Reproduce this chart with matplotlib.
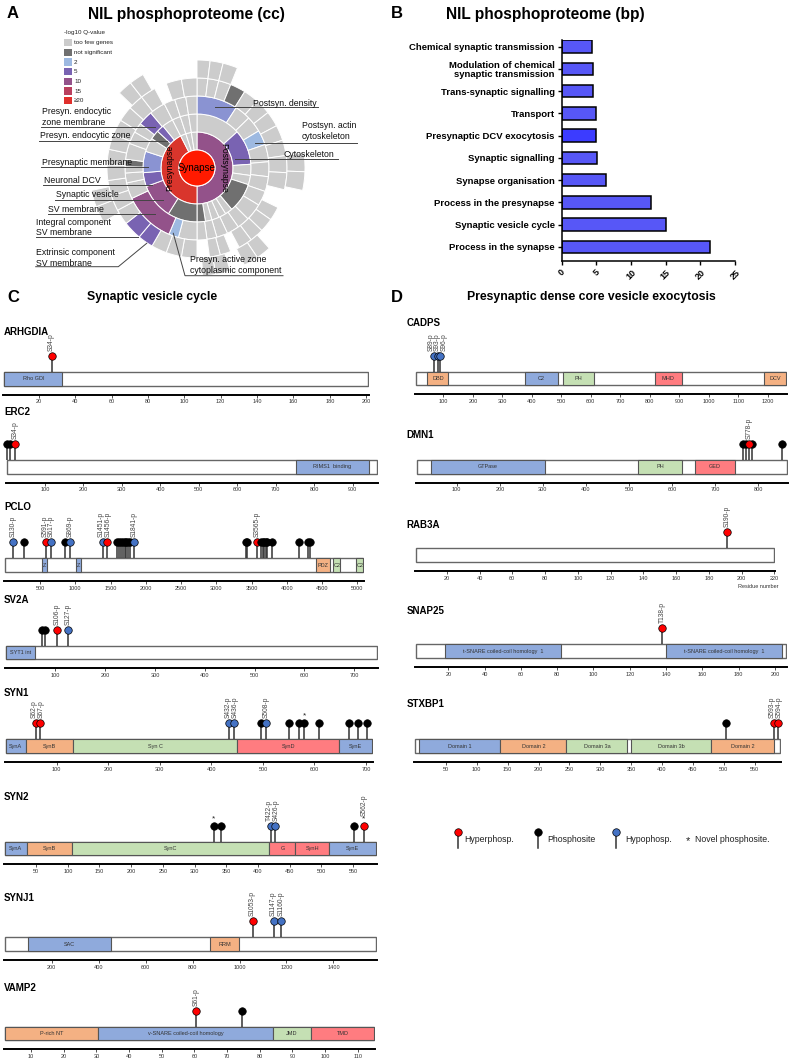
import numpy as np
import matplotlib.pyplot as plt
from matplotlib.patches import Wedge, Circle, Rectangle

plt.rcParams['font.family'] = ['Liberation Sans', 'DejaVu Sans']

W, H = 791, 1063

# ---------------- panel A data (sunburst, segment spans in degrees, clockwise from north)
q_colors = {'g': '#cccccc', 'n': '#707070', '2': '#9db9e1', '3': '#8a93d2',
            '5': '#7963b2', '10': '#93528a', '15': '#b9405e', '20': '#e0302c',
            'pre': '#d9352c', 'syn': '#ff1a00'}
legend_codes = ['g', 'n', '2', '5', '10', '15', '20']
legend_names = ['too few genes', 'not significant', '2', '5', '10', '15', '≥20']

ring1 = [(180, '10'), (153, 'pre'), (9, 'g'), (9, 'g'), (9, 'g')]
ring2 = [(48, 'g'), (38, '5'), (12, 'g'), (10, 'g'), (32, 'n'), (8, 'g'), (8, 'g'), (8, 'g'),
         (7, 'g'), (9, 'n'), (32, 'n'), (38, '10'), (15, '5'), (23, '3'), (15, 'g'), (10, 'n'),
         (8, '5'), (12, 'g'), (9, 'g'), (9, 'g'), (9, 'g')]
ring3 = [(33, '3'), (13, 'g'), (13, 'g'), (12, '2'), (14, 'g'), (12, 'g'), (12, 'g'), (12, 'g'),
         (14, 'g'), (10, 'g'), (10, 'g'), (9, 'g'), (8, 'g'), (8, 'g'),
         (15, 'g'), (8, '2'), (42, '10'), (13, 'g'), (8, 'g'), (5, 'g'), (6, 'n'), (13, 'g'),
         (10, 'g'), (8, 'g'), (12, '5'), (13, 'g'), (9, 'g'), (9, 'g'), (9, 'g')]
ring4 = [(7, 'g'), (7, 'g'), (8, 'g'), (10, 'n'), (10, 'g'), (10, 'g'), (10, 'g'), (10, 'g'),
         (10, 'g'), (11, 'g'), (11, 'g'), (12, None), (9, 'g'), (9, 'g'), (9, 'g'), (9, 'g'),
         (6, None), (7, 'g'), (7, 'g'), (8, None), (10, 'g'), (10, 'g'), (10, 'g'),
         (10, '5'), (12, '5'), (10, 'g'), (10, 'g'), (10, 'g'), (10, 'g'), (10, 'g'), (10, 'g'),
         (10, 'g'), (10, 'g'), (10, 'g'), (10, 'g'), (8, None), (10, 'g'), (10, 'g')]
ring5 = [(7, 'g'), (7, 'g'), (8, 'g'), (60, None), (10, 'g'), (10, 'g'), (36, None),
         (8, 'g'), (8, 'g'), (8, None), (8, 'g'), (7, 'g'), (63, None), (9, 'g'), (9, 'g'),
         (56, None), (8, 'g'), (8, 'g'), (30, None)]
rings = [ring1, ring2, ring3, ring4, ring5]

# label text lines, x, line centres y, leader polyline
sb_labels = [
    (['Presyn. endocytic', 'zone membrane'], 41.7, [111.7, 122.7], [(40.7, 126.7), (155, 126.7)]),
    (['Presyn. endocytic zone'], 39.5, [135.5], [(39.3, 141), (166.7, 141)]),
    (['Presynaptic membrane'], 41.7, [162.3], [(40.7, 166.5), (148.3, 166.5)]),
    (['Neuronal DCV'], 43.5, [180], [(42.7, 185), (151.7, 185)]),
    (['Synaptic vesicle'], 55.5, [194.5], [(55, 200), (163.3, 200)]),
    (['SV membrane'], 48, [209], [(47.7, 214), (155, 214)]),
    (['Integral component', 'SV membrane'], 36, [222, 232.3], [(35.7, 236.7), (138.3, 236.7)]),
    (['Extrinsic component', 'SV membrane'], 36, [252.3, 263.3],
     [(35.7, 266.7), (118.3, 266.7), (146.7, 243.3)]),
    (['Presyn. active zone', 'cytoplasmic component'], 190, [259.3, 270],
     [(173.3, 233.3), (185, 275.7), (283, 275.7)]),
    (['Postsyn. density'], 252.7, [103.3], [(215, 107.3), (318.3, 107.3)]),
    (['Postsyn. actin', 'cytoskeleton'], 302, [126, 136.7], [(255, 142.7), (356.7, 142.7)]),
    (['Cytoskeleton'], 284, [154.7], [(235, 159.3), (338.3, 159.3)]),
]

# ---------------- panel B data
bp_terms = ['Process in the synapse', 'Synaptic vesicle cycle', 'Process in the presynapse',
            'Synapse organisation', 'Synaptic signalling', 'Presynaptic DCV exocytosis',
            'Transport', 'Trans-synaptic signalling',
            'Modulation of chemical\nsynaptic transmission', 'Chemical synaptic transmission']
bp_values = [21.4, 15.0, 12.85, 6.35, 5.05, 4.95, 4.9, 4.5, 4.45, 4.35]
bp_colors = ['#5757f7'] * 5 + ['#3c3cff'] + ['#5757f7'] * 4

# ---------------- panels C / D data
dom_colors = {'b': '#8faadc', 'o': '#f4b183', 'g': '#c5e0b4', 'r': '#ff7c80'}
site_colors = {'hyper': '#ff0000', 'phos': '#000000', 'hypo': '#4472c4'}

lengths = {'ARHGDIA': (1, 201), 'ERC2': (1, 962), 'PCLO': (3, 5085), 'SV2A': (1, 745),
           'SYN1': (1, 711), 'SYN2': (1, 586), 'SYNJ1': (1, 1580), 'VAMP2': (2, 115),
           'CADPS': (6, 1261), 'DMN1': (7, 866), 'RAB3A': (1, 220), 'SNAP25': (2, 206),
           'STXBP1': (0, 591)}
tick_steps = {'ARHGDIA': 20, 'ERC2': 100, 'PCLO': 500, 'SV2A': 100, 'SYN1': 100, 'SYN2': 50,
              'SYNJ1': 200, 'VAMP2': 10, 'CADPS': 100, 'DMN1': 100, 'RAB3A': 20,
              'SNAP25': 20, 'STXBP1': 50}
domains = {
    'ARHGDIA': [(1, 33, 'Rho GDI', 'b')],
    'ERC2': [(752, 941, 'RIMS1  binding', 'b')],
    'PCLO': [(524, 595, 'Z', 'b'), (1011, 1082, 'Z', 'b'), (4419, 4608, 'PDZ', 'o'),
             (4656, 4760, 'C2', 'g'), (4983, 5085, 'C2', 'g')],
    'SV2A': [(1, 60, 'SYT1 int', 'b')],
    'SYN1': [(1, 40, 'SynA', 'b'), (40, 132, 'SynB', 'o'), (132, 450, 'Syn C', 'g'),
             (450, 648, 'SynD', 'r'), (648, 711, 'SynE', 'b')],
    'SYN2': [(1, 35, 'SynA', 'b'), (35, 107, 'SynB', 'o'), (107, 418, 'SynC', 'g'),
             (418, 459, 'G', 'r'), (459, 512, 'SynH', 'r'), (512, 586, 'SynE', 'b')],
    'SYNJ1': [(101, 452, 'SAC', 'b'), (876, 997, 'RRM', 'o')],
    'VAMP2': [(2, 30.5, 'P-rich NT', 'o'), (30.5, 84, 'v-SNARE coiled-coil homology', 'b'),
              (84, 95.7, 'JMD', 'g'), (95.7, 115, 'TMD', 'r')],
    'CADPS': [(46, 117, 'DBD', 'o'), (377, 487, 'C2', 'b'), (507, 611, 'PH', 'g'),
              (816, 908, 'MHD', 'r'), (1188, 1261, 'DCV', 'o')],
    'DMN1': [(40, 305, 'GTPase', 'b'), (520, 624, 'PH', 'g'), (653, 746, 'GED', 'r')],
    'RAB3A': [],
    'SNAP25': [(18, 82, 't-SNARE coiled-coil homology  1', 'b'),
               (140, 204, 't-SNARE coiled-coil homology  1', 'b')],
    'STXBP1': [(7, 138, 'Domain 1', 'b'), (138, 245, 'Domain 2', 'o'), (245, 344, 'Domain 3a', 'g'),
               (349, 480, 'Domain 3b', 'g'), (480, 582, 'Domain 2', 'o')],
}
# (residue, kind, label, novel)
sites = {
    'ARHGDIA': [(27, 'hyper', 'S34-p', False)],
    'ERC2': [(2, 'phos', '', False), (9, 'phos', '', False), (22, 'hyper', 'S34-p', False)],
    'PCLO': [(121, 'hypo', 'S130-p', False), (273, 'phos', '', False),
             (585, 'hyper', 'S591-p', False), (651, 'hypo', 'S617-p', False),
             (855, 'phos', '', False), (931, 'hypo', 'S869-p', False),
             (1390, 'hypo', 'S1451-p', False), (1447, 'hyper', 'S1456-p', False),
             (1598, 'phos', '', False), (1625, 'phos', '', False), (1650, 'phos', '', False),
             (1675, 'phos', '', False), (1700, 'phos', '', False), (1725, 'phos', '', False),
             (1750, 'phos', '', False), (1778, 'phos', '', False),
             (1839, 'hypo', 'S1841-p', False), (3418, 'phos', '', False),
             (3432, 'phos', '', False), (3577, 'hyper', 'S3565-p', False),
             (3640, 'phos', '', False), (3660, 'phos', '', False), (3680, 'phos', '', False),
             (3700, 'phos', '', False), (3718, 'phos', '', False), (3790, 'phos', '', False),
             (4168, 'phos', '', False), (4296, 'phos', '', False), (4322, 'phos', '', False)],
    'SV2A': [(74, 'phos', '', False), (79, 'phos', '', False), (103, 'hyper', 'S106-p', False),
             (125, 'hypo', 'S127-p', False)],
    'SYN1': [(60, 'hyper', 'S62-p', False), (67, 'hyper', 'S67-p', False),
             (435, 'hypo', 'S432-p', False), (443, 'hypo', 'S436-p', False),
             (496, 'phos', '', False), (506, 'hypo', 'S508-p', False), (551, 'phos', '', False),
             (569, 'phos', '', False), (580, 'phos', '', True), (609, 'phos', '', False),
             (666, 'phos', '', False), (685, 'phos', '', False), (701, 'phos', '', False)],
    'SYN2': [(330, 'phos', '', True), (342, 'phos', '', False), (421, 'hypo', 'T422-p', False),
             (426, 'hypo', 'S426-p', False), (551, 'phos', '', False),
             (567, 'hyper', 'S562-p', True)],
    'SYNJ1': [(1056, 'hyper', 'S1053-p', False), (1145, 'hypo', 'S1147-p', False),
              (1176, 'hypo', 'S1160-p', False)],
    'VAMP2': [(60.5, 'hyper', 'S61-p', False), (74.6, 'phos', '', False)],
    'CADPS': [(69, 'hypo', 'S89-p', False), (80, 'hypo', 'S93-p', False),
              (90, 'hypo', 'S96-p', False)],
    'DMN1': [(765, 'phos', '', False), (771, 'phos', '', False), (785, 'phos', '', False),
             (778, 'hyper', 'S778-p', False), (854, 'phos', '', False)],
    'RAB3A': [(191, 'hyper', 'S190-p', False)],
    'SNAP25': [(138, 'hyper', 'T138-p', False)],
    'STXBP1': [(504, 'phos', '', False), (581, 'hyper', 'S593-p', False),
               (587, 'hyper', 'S594-p', False)],
}
# layout: bar left px, bar right px, bar top px, name y px
layout = {
    'ARHGDIA': (4.3, 368, 372, 332), 'ERC2': (6.7, 376.7, 460, 411.7),
    'PCLO': (5, 363.3, 558.3, 506.7), 'SV2A': (6, 376.7, 645.7, 600),
    'SYN1': (5.7, 371.7, 739.3, 693.3), 'SYN2': (5, 376, 841.7, 797.3),
    'SYNJ1': (5, 375.7, 937.3, 898.3), 'VAMP2': (5, 374, 1026.7, 988.3),
    'CADPS': (415.7, 785.7, 371.7, 323.3), 'DMN1': (416.7, 786.7, 460, 435),
    'RAB3A': (415.7, 774.3, 548.3, 525), 'SNAP25': (415.7, 785.7, 644.3, 611),
    'STXBP1': (415, 780, 739.3, 704),
}

fig = plt.figure(figsize=(W / 100, H / 100), dpi=100)


def px_axes(x0, y0, x1, y1):
    return fig.add_axes([x0 / W, 1 - y1 / H, (x1 - x0) / W, (y1 - y0) / H])


def ftext(x, y, s, **kw):
    fig.text(x / W, 1 - y / H, s, **kw)


def spread(pos, gap):
    # push crowded label positions apart, keeping each cluster centred
    pos = list(pos)
    for _ in range(50):
        moved = False
        groups = [[0]]
        for i in range(1, len(pos)):
            if pos[i] - pos[groups[-1][-1]] < gap - 1e-6:
                groups[-1].append(i)
            else:
                groups.append([i])
        for g in groups:
            if len(g) > 1:
                c = np.mean([pos[i] for i in g])
                n = len(g)
                for j, i in enumerate(g):
                    new = c + (j - (n - 1) / 2) * gap
                    if abs(new - pos[i]) > 1e-6:
                        moved = True
                    pos[i] = new
        if not moved:
            break
    return pos


# ---------------- panel A
axA = px_axes(0, 0, 395, 290)
axA.set_xlim(0, 395)
axA.set_ylim(290, 0)
axA.axis('off')
cx, cy = 197, 168
radii = [18, 36, 54, 72, 90, 108]
for k, ring in enumerate(rings):
    start = 0
    for span, code in ring:
        if code is not None:
            axA.add_patch(Wedge((cx, cy), radii[k + 1], 270 + start, 270 + start + span,
                                width=radii[k + 1] - radii[k], fc=q_colors[code],
                                ec='white', lw=0.7))
        start += span
axA.add_patch(Circle((cx, cy), radii[0], fc=q_colors['syn'], ec='white', lw=0.8))
axA.text(cx, cy, 'Synapse', ha='center', va='center', fontsize=7)
axA.text(cx - 27, cy, 'Presynapse', ha='center', va='center', fontsize=6.2, rotation=90)
axA.text(cx + 27, cy, 'Postsynapse', ha='center', va='center', fontsize=6.2, rotation=-90)

for lines, tx, tys, pts in sb_labels:
    for s, ty in zip(lines, tys):
        axA.text(tx, ty, s, ha='left', va='center', fontsize=6.3, color='#111111')
    xs, ys = zip(*pts)
    axA.plot(xs, ys, color='#444444', lw=0.7)

axA.text(64, 32.3, '-log10 Q-value', fontsize=4.5, va='center', ha='left', color='#222222')
for i, (code, nm) in enumerate(zip(legend_codes, legend_names)):
    yy = 42.7 + i * 9.67
    axA.add_patch(Rectangle((64.3, yy - 3.6), 7.4, 7.2, fc=q_colors[code], ec='none'))
    axA.text(74, yy, nm, fontsize=4.5, va='center', ha='left', color='#222222')

# ---------------- panel B
axB = px_axes(561.7, 40, 735, 261)
axB.barh(np.arange(len(bp_values)), bp_values, height=0.56, color=bp_colors,
         edgecolor='black', linewidth=1.1)
axB.set_xlim(0, 25)
axB.set_ylim(-0.64, 9.3)
axB.set_yticks(np.arange(len(bp_terms)))
axB.set_yticklabels(bp_terms, fontsize=6.8, fontweight='bold', linespacing=1.05)
axB.set_xticks(np.arange(0, 26, 5))
axB.set_xticklabels([str(v) for v in range(0, 26, 5)], fontsize=6.5, fontweight='bold',
                    rotation=45, ha='center', va='top')
for sp in ['top', 'right']:
    axB.spines[sp].set_visible(False)
for sp in ['left', 'bottom']:
    axB.spines[sp].set_linewidth(1.1)
axB.tick_params(length=3, width=1.0, pad=2)


# ---------------- panels C and D
def draw_protein(name, name_x):
    x0, x1, top, name_y = layout[name]
    r0, r1 = lengths[name]
    scale = (x1 - x0) / (r1 - r0)
    axis_y = top + 22.5
    bot = top + 13.5
    head_y = top - 16
    ax_top = top - 45
    ax = px_axes(x0 - 1, ax_top, x1 + 1, axis_y)
    ax.set_xlim(r0 - 1 / scale, r1 + 1 / scale)
    ax.set_ylim(axis_y, ax_top)
    ax.patch.set_alpha(0)
    ax.add_patch(Rectangle((r0, top), r1 - r0, bot - top, fc='white', ec='#666666', lw=1.0))
    for d0, d1, lab, c in domains[name]:
        ax.add_patch(Rectangle((d0, top), d1 - d0, bot - top, fc=dom_colors[c],
                               ec='#555555', lw=0.8))
        ax.text((d0 + d1) / 2, (top + bot) / 2, lab, ha='center', va='center',
                fontsize=4, color='#333333')
    for res, kind, lab, novel in sites[name]:
        ax.plot([res, res], [top, head_y], color='#333333', lw=1.1, solid_capstyle='butt')
    for res, kind, lab, novel in sites[name]:
        ax.plot(res, head_y, 'o', ms=5.4, mfc=site_colors[kind], mec='black', mew=0.5,
                clip_on=False)
        if novel:
            ax.text(res, head_y - 3.5, '*', ha='center', va='bottom', fontsize=6,
                    color='#222222')
    # rotated site labels, spread so that neighbours do not collide
    labelled = sorted([s for s in sites[name] if s[2]], key=lambda s: s[0])
    if labelled:
        xs = spread([s[0] * scale for s in labelled], 6.6)
        for (res, kind, lab, novel), xp in zip(labelled, xs):
            lab_y = head_y - (10 if novel else 5)
            ax.text(xp / scale, lab_y, lab, rotation=90, ha='center', va='bottom',
                    fontsize=4.8, color='#444444')
    step = tick_steps[name]
    ax.set_xticks(np.arange(step, r1 + 1, step))
    ax.set_yticks([])
    for sp in ['top', 'right', 'left']:
        ax.spines[sp].set_visible(False)
    ax.spines['bottom'].set_linewidth(1.4)
    ax.tick_params(axis='x', length=2, width=0.6, labelsize=4, pad=1.5, colors='#333333')
    ftext(name_x, name_y, name, fontsize=7, fontweight='bold', va='center', ha='left')


for nm in ['ARHGDIA', 'ERC2', 'PCLO', 'SV2A', 'SYN1', 'SYN2', 'SYNJ1', 'VAMP2']:
    draw_protein(nm, 4)
for nm in ['CADPS', 'DMN1', 'RAB3A', 'SNAP25', 'STXBP1']:
    draw_protein(nm, 406.7)
ftext(758.3, 586.7, 'Residue number', fontsize=4, ha='center', va='center', color='#333333')

# legend of lollipop types
axL = px_axes(440, 820, 791, 860)
axL.set_xlim(440, 791)
axL.set_ylim(860, 820)
axL.axis('off')
leg_items = [(457.7, 'hyper', 'Hyperphosp.', 464.3), (538.3, 'phos', 'Phosphosite', 547.3),
             (615.7, 'hypo', 'Hypophosp.', 625)]
for lx, kind, lab, tx in leg_items:
    axL.plot([lx, lx], [848.3, 832.3], color='#333333', lw=1.1)
    axL.plot(lx, 832.3, 'o', ms=5.4, mfc=site_colors[kind], mec='black', mew=0.5)
    axL.text(tx, 839, lab, fontsize=6.3, va='center', ha='left', color='#222222')
axL.text(687.7, 841, '*', fontsize=8, va='center', ha='center', color='#222222')
axL.text(695, 839, 'Novel phosphosite.', fontsize=6.3, va='center', ha='left', color='#222222')

# ---------------- titles and panel letters
ftext(7, 14, 'A', fontsize=12, fontweight='bold', va='center')
ftext(391, 14, 'B', fontsize=12, fontweight='bold', va='center')
ftext(7, 297, 'C', fontsize=12, fontweight='bold', va='center')
ftext(391, 297, 'D', fontsize=12, fontweight='bold', va='center')
ftext(186, 14, 'NIL phosphoproteome (cc)', fontsize=11.2, fontweight='bold',
      ha='center', va='center')
ftext(545, 14, 'NIL phosphoproteome (bp)', fontsize=11.2, fontweight='bold',
      ha='center', va='center')
ftext(152, 297, 'Synaptic vesicle cycle', fontsize=8.8, fontweight='bold',
      ha='center', va='center')
ftext(591, 297, 'Presynaptic dense core vesicle exocytosis', fontsize=8.8,
      fontweight='bold', ha='center', va='center')

fig.savefig('out.png', dpi=100)
